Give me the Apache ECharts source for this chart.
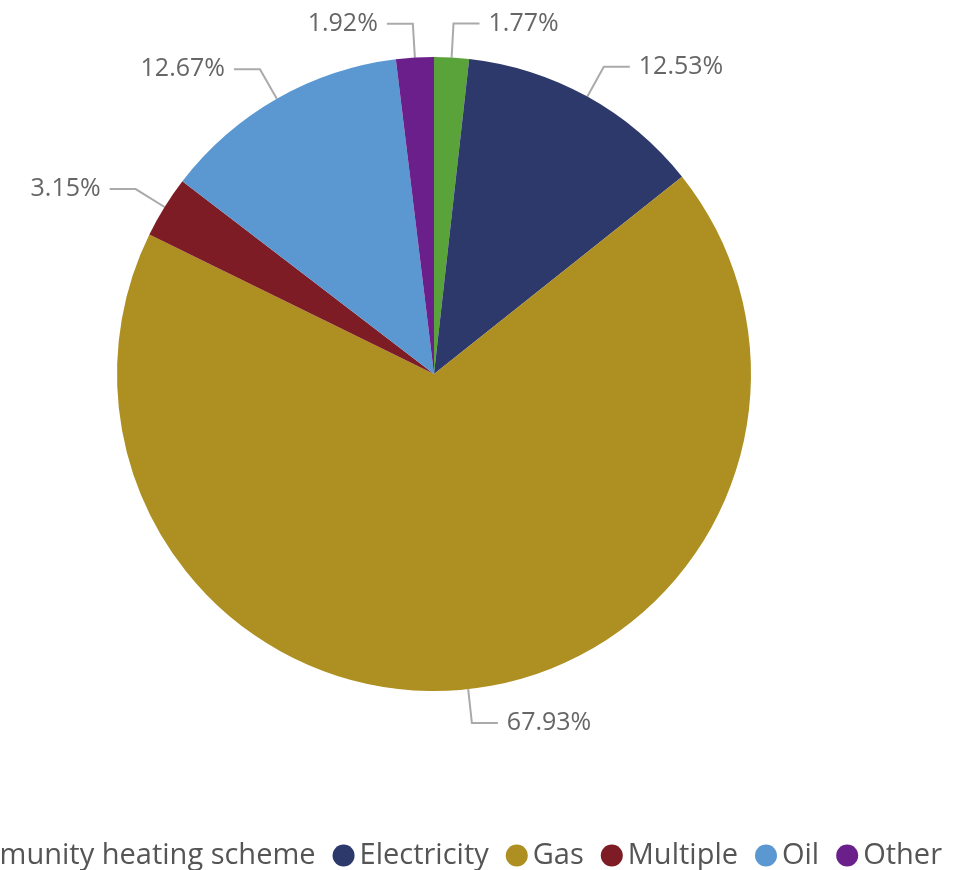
<!DOCTYPE html>
<html><head><meta charset="utf-8">
<script src="https://cdn.jsdelivr.net/npm/echarts@6/dist/echarts.min.js"></script>
<style>html,body{margin:0;padding:0;background:#fff}#c{width:977px;height:870px}</style>
</head><body><div id="c"></div>
<script>
const categories = ["Community heating scheme","Electricity","Gas","Multiple","Oil","Other"];
const values = [1.77,12.53,67.93,3.15,12.67,1.92];
const colors = ["#5aa23a","#2d386b","#ae8f21","#7e1c25","#5b98d2","#6a1f8b"];
const chart = echarts.init(document.getElementById('c'));
chart.setOption({
  animation:false,
  color: colors,
  legend:{
    data: categories, right:30, top:836, width:1600, icon:'circle',
    itemWidth:22, itemHeight:22, itemGap:17,
    textStyle:{fontFamily:'Open Sans', fontSize:29, color:'#555'}
  },
  series:[{
    type:'pie', center:[434,374], radius:317, startAngle:90, clockwise:true,
    data: categories.map((n,i)=>({name:n,value:values[i]})),
    label:{formatter: p=>p.value.toFixed(2)+'%', fontFamily:'Open Sans', fontSize:25, color:'#666', distanceToLabelLine:9},
    labelLine:{length:34,length2:26,lineStyle:{color:'#aaa',width:2}},
    itemStyle:{borderWidth:0}
  }]
});
</script></body></html>
